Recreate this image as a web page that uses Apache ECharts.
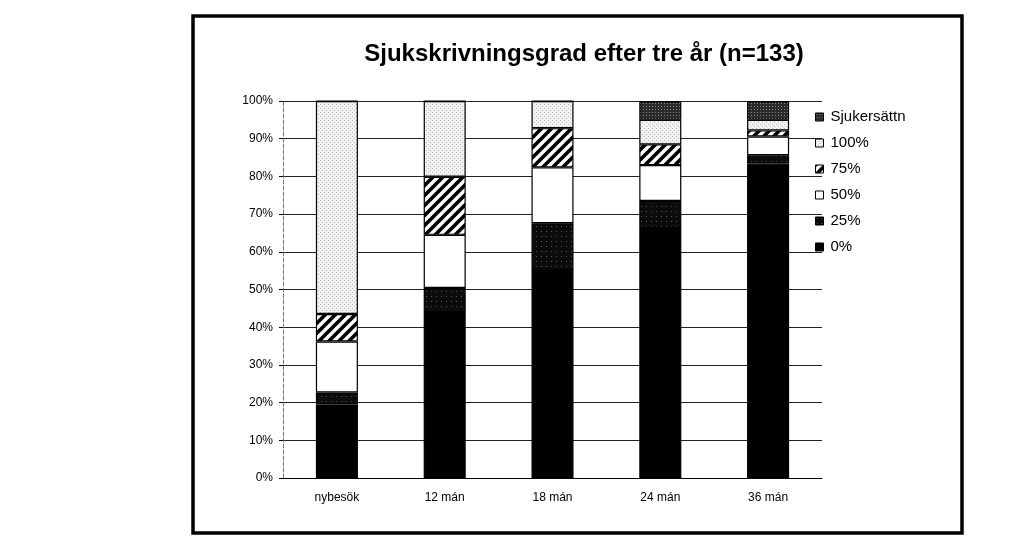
<!DOCTYPE html>
<html>
<head>
<meta charset="utf-8">
<script src="https://cdn.jsdelivr.net/npm/echarts@6/dist/echarts.min.js"></script>
<style>
html,body{margin:0;padding:0;background:#fff;}
#c{width:1024px;height:547px;}
</style>
</head>
<body>
<div id="c"></div>
<script>
// ---- data ----
const categories = ['nybesök', '12 mán', '18 mán', '24 mán', '36 mán'];
const yTicks = ['0%', '10%', '20%', '30%', '40%', '50%', '60%', '70%', '80%', '90%', '100%'];
const s0 = [19.5, 44.0, 55.2, 66.3, 83.4];      // 0%
const s25 = [3.2, 6.4, 12.4, 7.2, 2.2];         // 25%
const s50 = [13.5, 14.1, 14.8, 9.5, 5.0];       // 50%
const s75 = [7.3, 15.4, 10.4, 5.5, 1.6];        // 75%
const s100 = [56.5, 20.1, 7.2, 6.5, 2.8];       // 100%
const sSjuk = [0, 0, 0, 5.0, 5.0];              // Sjukersättn
const title = 'Sjukskrivningsgrad efter tre år (n=133)';

// ---- fill patterns ----
function tile(w, h, draw) {
  const c = document.createElement('canvas');
  c.width = w; c.height = h;
  draw(c.getContext('2d'));
  return { image: c, repeat: 'repeat' };
}
const hatch = tile(10, 10, g => {
  g.fillStyle = '#fff'; g.fillRect(0, 0, 10, 10);
  g.strokeStyle = '#000'; g.lineWidth = 3.6;
  g.beginPath();
  g.moveTo(-2, 12); g.lineTo(12, -2);
  g.moveTo(-7, 7); g.lineTo(7, -7);
  g.moveTo(3, 17); g.lineTo(17, 3);
  g.stroke();
});
const lightDots = tile(4, 4, g => {
  g.fillStyle = '#f2f2f2'; g.fillRect(0, 0, 4, 4);
  g.fillStyle = '#b8b8b8'; g.fillRect(0, 0, 1, 1); g.fillRect(2, 2, 1, 1);
});
const darkDots = tile(3, 3, g => {
  g.fillStyle = '#2a2a2a'; g.fillRect(0, 0, 3, 3);
  g.fillStyle = '#8a8a8a'; g.fillRect(1, 1, 1, 1);
});
const nearBlack = tile(5, 5, g => {
  g.fillStyle = '#0c0c0c'; g.fillRect(0, 0, 5, 5);
  g.fillStyle = '#555'; g.fillRect(1, 1, 1, 1);
});

const font = 'Liberation Sans, Arial, sans-serif';
function bar(name, data, fill) {
  return {
    name, type: 'bar', stack: 'all', data,
    barWidth: '39%',
    itemStyle: { color: fill, borderColor: '#000', borderWidth: 1.2 },
    emphasis: { disabled: true }
  };
}

const chart = echarts.init(document.getElementById('c'), null, { renderer: 'canvas' });
chart.setOption({
  animation: false,
  backgroundColor: '#fff',
  title: {
    text: title, left: 579, top: 37, textAlign: 'center',
    textStyle: { fontFamily: font, fontSize: 24, fontWeight: 'bold', color: '#000' }
  },
  graphic: [{
    type: 'rect', shape: { x: 193, y: 16, width: 769, height: 517 },
    style: { fill: 'none', stroke: '#000', lineWidth: 3.5 }, silent: true, z: 100
  }],
  legend: {
    orient: 'vertical', left: 810, top: 104,
    icon: 'rect',
    itemWidth: 8, itemHeight: 8, itemGap: 10,
    data: ['Sjukersättn', '100%', '75%', '50%', '25%', '0%'],
    textStyle: { fontFamily: font, fontSize: 15, color: '#000', lineHeight: 16, padding: [0, 0, 0, 2] },
    itemStyle: { borderColor: '#000', borderWidth: 1 }
  },
  grid: { left: 283, right: 202, top: 101, bottom: 69 },
  xAxis: {
    type: 'category', data: categories,
    axisLine: { lineStyle: { color: '#000', width: 1 } },
    axisTick: { show: false },
    axisLabel: { fontFamily: font, fontSize: 12, color: '#000', margin: 14 }
  },
  yAxis: {
    type: 'value', min: 0, max: 100, interval: 10,
    axisLine: { show: true, lineStyle: { color: '#777', type: 'dashed', width: 1 } },
    axisTick: { show: true, length: 4, lineStyle: { color: '#000' } },
    axisLabel: {
      fontFamily: font, fontSize: 12, color: '#000', margin: 10,
      formatter: v => yTicks[Math.round(v / 10)]
    },
    splitLine: { show: true, lineStyle: { color: '#222', width: 1 } }
  },
  series: [
    bar('0%', s0, '#000'),
    bar('25%', s25, nearBlack),
    bar('50%', s50, '#fff'),
    bar('75%', s75, hatch),
    bar('100%', s100, lightDots),
    bar('Sjukersättn', sSjuk, darkDots)
  ]
});
</script>
</body>
</html>
